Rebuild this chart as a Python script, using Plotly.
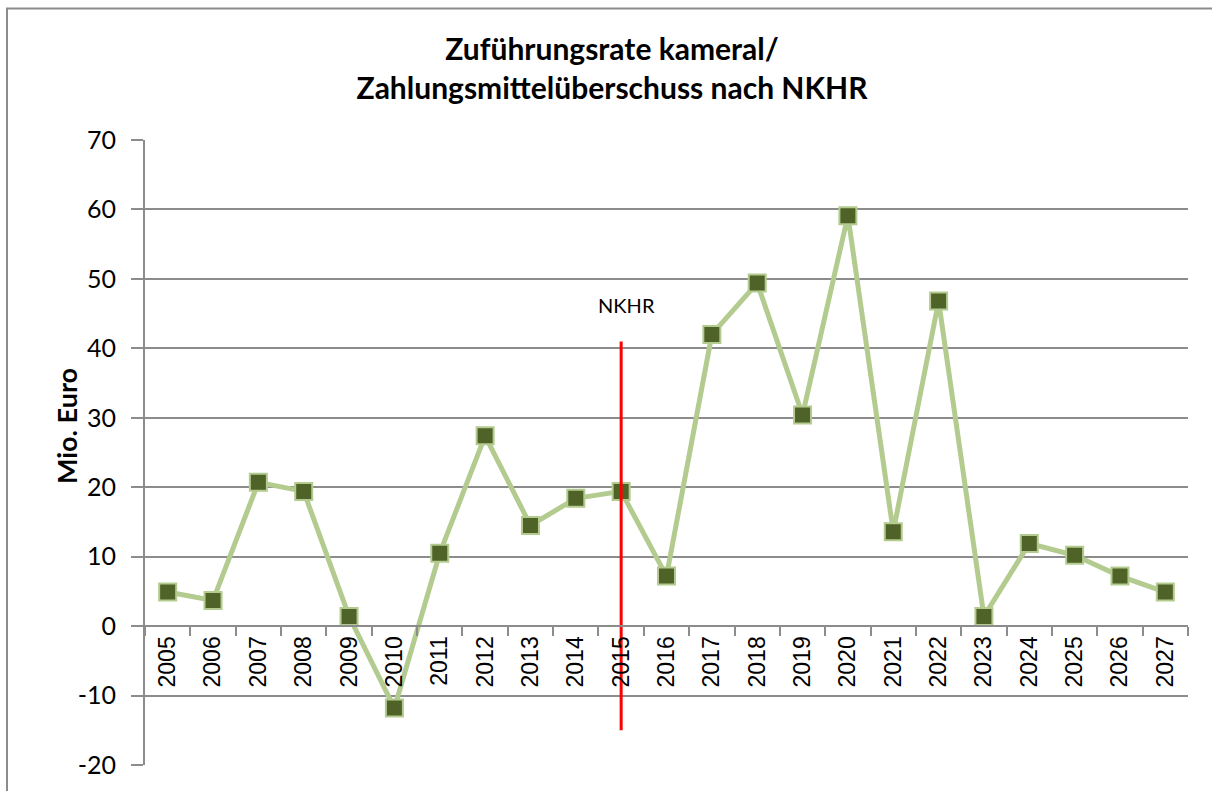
import plotly.graph_objects as go

years = [str(y) for y in range(2005, 2028)]
values = [4.9, 3.7, 20.7, 19.4, 1.4, -11.8, 10.5, 27.4, 14.5, 18.4, 19.4, 7.2,
          42.0, 49.4, 30.4, 59.1, 13.6, 46.8, 1.4, 11.9, 10.2, 7.2, 4.9]

nkhr_year = "2015"
nkhr_range = [-15, 41]
nkhr_label = "\u00a0\u00a0NKHR"
nkhr_label_y = 45.8

title_text = "Zuführungsrate kameral/<br>Zahlungsmittelüberschuss nach NKHR"
y_title = "Mio. Euro"
y_ticks = [-20, -10, 0, 10, 20, 30, 40, 50, 60, 70]
y_ticktext = ["-20", "-10", "0", "10", "20", "30", "40", "50", "60", "70"]

grid_col = "#8c8c8c"

fig = go.Figure()

fig.add_trace(go.Scatter(
    x=years, y=values, mode="lines+markers",
    line=dict(color="#b3cb8f", width=5),
    marker=dict(symbol="square", size=17, color="#4f6228",
                line=dict(color="#b3cb8f", width=2)),
    showlegend=False, hoverinfo="x+y",
))

fig.add_trace(go.Scatter(
    x=[nkhr_year, nkhr_year], y=nkhr_range, mode="lines",
    line=dict(color="#ff0000", width=3), showlegend=False, hoverinfo="skip",
))

fig.add_trace(go.Scatter(
    x=[nkhr_year], y=[nkhr_label_y], mode="text", text=[nkhr_label],
    textposition="middle center",
    textfont=dict(family="Lato", size=20, color="#000000"),
    showlegend=False, hoverinfo="skip",
))

y_min, y_max = y_ticks[0], y_ticks[-1]
zero_pos = (0 - y_min) / (y_max - y_min)

fig.update_layout(
    width=1212, height=791,
    margin=dict(l=145, r=24, t=140, b=24),
    paper_bgcolor="white", plot_bgcolor="white",
    title=dict(text=title_text, x=612 / 1212, xanchor="center",
               y=1 - 60 / 791, yanchor="middle",
               font=dict(family="Lato", size=30, color="#000000", weight="bold")),
    xaxis=dict(
        type="category", categoryorder="array", categoryarray=years,
        anchor="free", position=zero_pos,
        showline=True, linecolor=grid_col, linewidth=2,
        ticks="outside", tickson="boundaries", ticklen=9, tickcolor=grid_col, tickwidth=2,
        tickangle=-90, showgrid=False, zeroline=False,
        tickfont=dict(family="Liberation Sans", size=23, color="#000000"),
        range=[-0.5, len(years) - 0.5],
    ),
    yaxis=dict(
        range=[y_min, y_max], tickmode="array", tickvals=y_ticks, ticktext=y_ticktext,
        showline=True, linecolor=grid_col, linewidth=2,
        ticks="outside", ticklen=12, tickcolor=grid_col, tickwidth=2,
        ticklabelstandoff=10,
        showgrid=True, gridcolor=grid_col, gridwidth=2,
        zeroline=False,
        tickfont=dict(family="Lato", size=25, color="#000000"),
    ),
    shapes=[dict(type="rect", xref="paper", yref="paper",
                 x0=(7 - 145) / 1043, x1=1.2, y0=-0.2, y1=(767 - 8) / 627,
                 line=dict(color="#8c8c8c", width=2), layer="below")],
    annotations=[
        dict(text=y_title, xref="paper", yref="paper",
             x=(66 - 145) / 1043, y=(767 - 427) / 627, textangle=-90,
             xanchor="center", yanchor="middle", showarrow=False,
             font=dict(family="Lato", size=27, color="#000000", weight="bold")),
    ],
)

fig.write_html("out.html", post_script="document.body.style.margin='0px';",
               config={"displayModeBar": False})
